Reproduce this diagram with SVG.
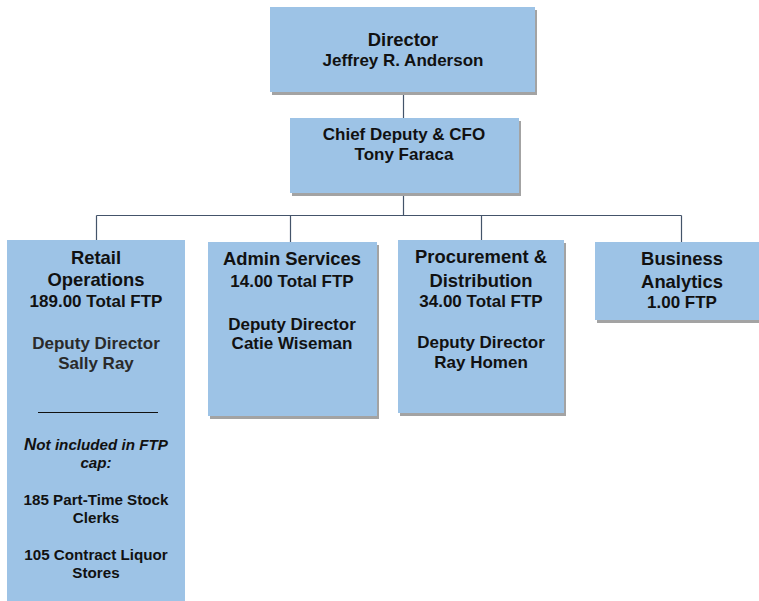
<svg xmlns="http://www.w3.org/2000/svg" width="759" height="601" viewBox="0 0 759 601">
<style>
.box{fill:#9dc3e6}
.sh{fill:#a3a3a3}
.t{font-family:"Liberation Sans",Arial,sans-serif;font-weight:bold;text-anchor:middle;fill:#111}
.h{font-size:18.4px}
.m{font-size:17px}
.s{font-size:15.2px}
.c{stroke:#44546a;stroke-width:1.2;fill:none}
</style>
<rect width="759" height="601" fill="#ffffff"/>
<g id="connectors">
<path class="c" d="M403.5 95V118M403.5 196V215.5M96.5 215.5H681.5M96.5 215.5V240M290.5 215.5V242M481.5 215.5V240M681.5 215.5V242"/>
</g>
<g id="director">
<rect class="sh" x="272" y="10" width="265" height="85"/>
<rect class="box" x="270" y="7" width="265" height="85"/>
<text class="t h" x="403" y="46">Director</text>
<text class="t m" x="403" y="66">Jeffrey R. Anderson</text>
</g>
<g id="chief-deputy">
<rect class="sh" x="292" y="121" width="229" height="75"/>
<rect class="box" x="290" y="118" width="229" height="75"/>
<text class="t m" x="404" y="140">Chief Deputy &amp; CFO</text>
<text class="t m" x="404" y="160">Tony Faraca</text>
</g>
<g id="retail-operations">
<rect class="box" x="7" y="240" width="178" height="361"/>
<text class="t h" x="96" y="264">Retail</text>
<text class="t h" x="96" y="286">Operations</text>
<text class="t m" x="96" y="307">189.00 Total FTP</text>
<text class="t m" x="96" y="349" style="fill:#2a2a2a">Deputy Director</text>
<text class="t m" x="96" y="369" style="fill:#2a2a2a">Sally Ray</text>
<line x1="38" y1="412.5" x2="158" y2="412.5" stroke="#111" stroke-width="1"/>
<text class="t s" x="96" y="450" font-style="italic"><tspan font-size="17">N</tspan>ot included in FTP</text>
<text class="t s" x="96" y="468" font-style="italic">cap:</text>
<text class="t s" x="96" y="505">185 Part-Time Stock</text>
<text class="t s" x="96" y="523">Clerks</text>
<text class="t s" x="96" y="560">105 Contract Liquor</text>
<text class="t s" x="96" y="578">Stores</text>
</g>
<g id="admin-services">
<rect class="sh" x="210" y="245" width="169" height="174"/>
<rect class="box" x="208" y="242" width="169" height="174"/>
<text class="t h" x="292" y="265">Admin Services</text>
<text class="t m" x="292" y="287">14.00 Total FTP</text>
<text class="t m" x="292" y="330">Deputy Director</text>
<text class="t m" x="292" y="349">Catie Wiseman</text>
</g>
<g id="procurement-distribution">
<rect class="sh" x="400" y="243" width="166" height="173"/>
<rect class="box" x="398" y="240" width="166" height="173"/>
<text class="t h" x="481" y="263">Procurement &amp;</text>
<text class="t h" x="481" y="287">Distribution</text>
<text class="t m" x="481" y="307">34.00 Total FTP</text>
<text class="t m" x="481" y="348">Deputy Director</text>
<text class="t m" x="481" y="368">Ray Homen</text>
</g>
<g id="business-analytics">
<rect class="sh" x="597" y="245" width="170" height="78"/>
<rect class="box" x="595" y="242" width="170" height="78"/>
<text class="t h" x="682" y="265">Business</text>
<text class="t h" x="682" y="288">Analytics</text>
<text class="t m" x="682" y="308">1.00 FTP</text>
</g>
</svg>
